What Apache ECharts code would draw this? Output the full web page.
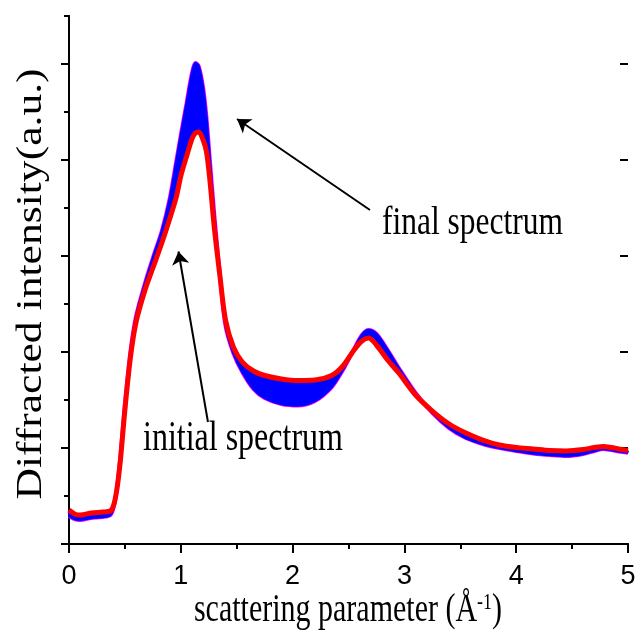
<!DOCTYPE html>
<html>
<head>
<meta charset="utf-8">
<script src="https://cdn.jsdelivr.net/npm/echarts@6/dist/echarts.min.js"></script>
<style>
  html, body { margin: 0; padding: 0; background: #fff; }
  #chart { width: 642px; height: 641px; }
</style>
</head>
<body>
<div id="chart"></div>
<script>
// Scattering parameter (1/Å)
const scatteringQ = [0, 0.05, 0.1, 0.2, 0.3, 0.37, 0.4, 0.43, 0.46, 0.5, 0.55, 0.6, 0.68, 0.75, 0.83,
  0.9, 0.96, 1.0, 1.05, 1.1, 1.13, 1.16, 1.2, 1.23, 1.26, 1.3, 1.35, 1.4, 1.47, 1.55,
  1.65, 1.75, 1.9, 2.05, 2.2, 2.35, 2.45, 2.55, 2.62, 2.68, 2.75, 2.85, 2.95, 3.1, 3.25,
  3.4, 3.55, 3.7, 3.85, 4.0, 4.15, 4.3, 4.45, 4.6, 4.7, 4.78, 4.85, 4.92, 5.0];

// Diffracted intensity (a.u.) of the first recorded spectrum
const initialSpectrum = [0.354, 0.313, 0.302, 0.323, 0.333, 0.344, 0.406, 0.583, 0.875, 1.396,
  1.948, 2.313, 2.646, 2.875, 3.135, 3.385, 3.615, 3.833, 4.031, 4.219,
  4.281, 4.292, 4.208, 4.083, 3.792, 3.292, 2.792, 2.333, 2.052, 1.896,
  1.802, 1.755, 1.719, 1.703, 1.708, 1.755, 1.854, 2.021, 2.115, 2.146,
  2.073, 1.917, 1.781, 1.552, 1.385, 1.25, 1.156, 1.083, 1.031, 1.005,
  0.99, 0.974, 0.969, 0.984, 1.005, 1.016, 1.005, 0.99, 0.974];

// Diffracted intensity (a.u.) of the last recorded spectrum
const finalSpectrum = [0.292, 0.26, 0.25, 0.271, 0.281, 0.302, 0.385, 0.594, 0.917, 1.458,
  2.01, 2.375, 2.719, 2.979, 3.26, 3.594, 3.99, 4.26, 4.583, 4.906,
  5.01, 4.979, 4.75, 4.438, 4.0, 3.427, 2.802, 2.271, 1.99, 1.792,
  1.615, 1.521, 1.458, 1.443, 1.49, 1.635, 1.813, 2.031, 2.177, 2.229,
  2.188, 2.021, 1.833, 1.573, 1.365, 1.208, 1.104, 1.042, 1.0, 0.969,
  0.943, 0.927, 0.917, 0.938, 0.969, 0.99, 0.979, 0.964, 0.951];

const xTickLabels = ['0', '1', '2', '3', '4', '5'];

// Annotation arrows, in data units: [from, to]
const finalArrow = [[2.692, 3.479], [1.503, 4.427]];
const initialArrow = [[1.243, 1.271], [0.979, 3.047]];

const pairs = (ys) => scatteringQ.map((x, i) => [x, ys[i]]);

const serif = '"Liberation Serif", "Times New Roman", serif';
const sans = '"Liberation Sans", Arial, sans-serif';
const black = '#000';
const SMOOTH = 0.3;

const chart = echarts.init(document.getElementById('chart'), null, { renderer: 'canvas' });

chart.setOption({
  animation: false,
  backgroundColor: '#fff',
  grid: [
    { left: 69, right: 14, top: 16, bottom: 97 },
    { left: 69, right: 14, top: 64, bottom: 97 }
  ],
  xAxis: [
    {
      gridIndex: 0, type: 'value', position: 'bottom', min: 0, max: 5, interval: 1,
      axisLine: { lineStyle: { color: black, width: 2 } },
      axisTick: { inside: false, length: 9, lineStyle: { color: black, width: 2 } },
      minorTick: { show: true, splitNumber: 2, length: 5, lineStyle: { color: black, width: 2 } },
      axisLabel: {
        margin: 19, color: black, fontSize: 27, fontFamily: sans,
        formatter: (v) => xTickLabels[Math.round(v)] ?? ''
      },
      splitLine: { show: false }
    },
    {
      gridIndex: 0, type: 'value', position: 'top', min: 0, max: 5,
      axisLine: { lineStyle: { color: black, width: 2 } },
      axisTick: { show: false }, axisLabel: { show: false }, splitLine: { show: false }
    },
    { gridIndex: 1, type: 'value', min: 0, max: 5, show: false }
  ],
  yAxis: [
    {
      gridIndex: 0, type: 'value', position: 'left', min: 0, max: 5.5, interval: 0.5,
      axisLine: { lineStyle: { color: black, width: 2 } },
      axisTick: { inside: false, length: 4, lineStyle: { color: black, width: 2 } },
      axisLabel: { show: false }, splitLine: { show: false }
    },
    {
      gridIndex: 0, type: 'value', position: 'right', min: 0, max: 5.5, interval: 0.5,
      axisLine: { lineStyle: { color: black, width: 2 } },
      axisTick: { inside: true, length: 5, lineStyle: { color: black, width: 2 } },
      axisLabel: { show: false }, splitLine: { show: false }
    },
    {
      gridIndex: 1, type: 'value', position: 'left', min: 0, max: 5, interval: 1,
      axisLine: { show: false },
      axisTick: { inside: false, length: 8, lineStyle: { color: black, width: 2 } },
      axisLabel: { show: false }, splitLine: { show: false }
    },
    {
      gridIndex: 1, type: 'value', position: 'right', min: 0, max: 5, interval: 1,
      axisLine: { show: false },
      axisTick: { inside: true, length: 8, lineStyle: { color: black, width: 2 } },
      axisLabel: { show: false }, splitLine: { show: false }
    }
  ],
  series: [
    {
      // thin magenta rim along the outer edge of the spectra bundle
      name: 'rim', type: 'line', xAxisIndex: 0, yAxisIndex: 0,
      data: pairs(finalSpectrum), showSymbol: false, symbol: 'none', z: 1, smooth: SMOOTH,
      lineStyle: { color: '#ff00ff', width: 4 }
    },
    {
      // band swept by the intermediate spectra
      name: 'evolution', type: 'custom', xAxisIndex: 0, yAxisIndex: 0, z: 2,
      data: pairs(finalSpectrum),
      renderItem: (params, api) => {
        if (params.dataIndex !== 0) return null;
        const pts = [];
        for (let i = 0; i < scatteringQ.length; i++) pts.push(api.coord([scatteringQ[i], finalSpectrum[i]]));
        for (let i = scatteringQ.length - 1; i >= 0; i--) pts.push(api.coord([scatteringQ[i], initialSpectrum[i]]));
        return {
          type: 'polygon',
          shape: { points: pts, smooth: SMOOTH },
          style: { fill: '#0000ff', stroke: '#0000ff', lineWidth: 1 }
        };
      }
    },
    {
      name: 'final spectrum', type: 'line', xAxisIndex: 0, yAxisIndex: 0,
      data: pairs(finalSpectrum), showSymbol: false, symbol: 'none', z: 3, smooth: SMOOTH,
      lineStyle: { color: '#0000ff', width: 2.5 }
    },
    {
      name: 'initial spectrum', type: 'line', xAxisIndex: 0, yAxisIndex: 0,
      data: pairs(initialSpectrum), showSymbol: false, symbol: 'none', z: 4, smooth: SMOOTH,
      lineStyle: { color: '#ff0000', width: 5 },
      markLine: {
        silent: true, animation: false,
        symbol: ['none', 'arrow'], symbolSize: 13,
        lineStyle: { color: black, width: 2, type: 'solid' },
        label: { show: false },
        data: [
          [{ coord: finalArrow[0] }, { coord: finalArrow[1] }],
          [{ coord: initialArrow[0] }, { coord: initialArrow[1] }]
        ]
      }
    }
  ],
  graphic: [
    {
      type: 'text', x: 382, y: 223, scaleY: 1.3, z: 10,
      style: { text: 'final spectrum', fontSize: 31.5, fontFamily: serif, fill: black, align: 'left', verticalAlign: 'middle' }
    },
    {
      type: 'text', x: 143, y: 439, scaleY: 1.3, z: 10,
      style: { text: 'initial spectrum', fontSize: 32, fontFamily: serif, fill: black, align: 'left', verticalAlign: 'middle' }
    },
    {
      type: 'text', x: 348, y: 611, scaleY: 1.3, z: 10,
      style: {
        text: '{m|scattering parameter (Å}{s|-1}{m|)}',
        align: 'center', verticalAlign: 'middle',
        rich: {
          m: { fontSize: 30, fontFamily: serif, fill: black },
          s: { fontSize: 18, fontFamily: serif, fill: black, verticalAlign: 'top' }
        }
      }
    },
    {
      type: 'text', x: 32, y: 284, rotation: Math.PI / 2, scaleX: 1.245, z: 10,
      style: { text: 'Diffracted intensity(a.u.)', fontSize: 35, fontFamily: serif, fill: black, align: 'center', verticalAlign: 'middle' }
    }
  ]
});
</script>
</body>
</html>
